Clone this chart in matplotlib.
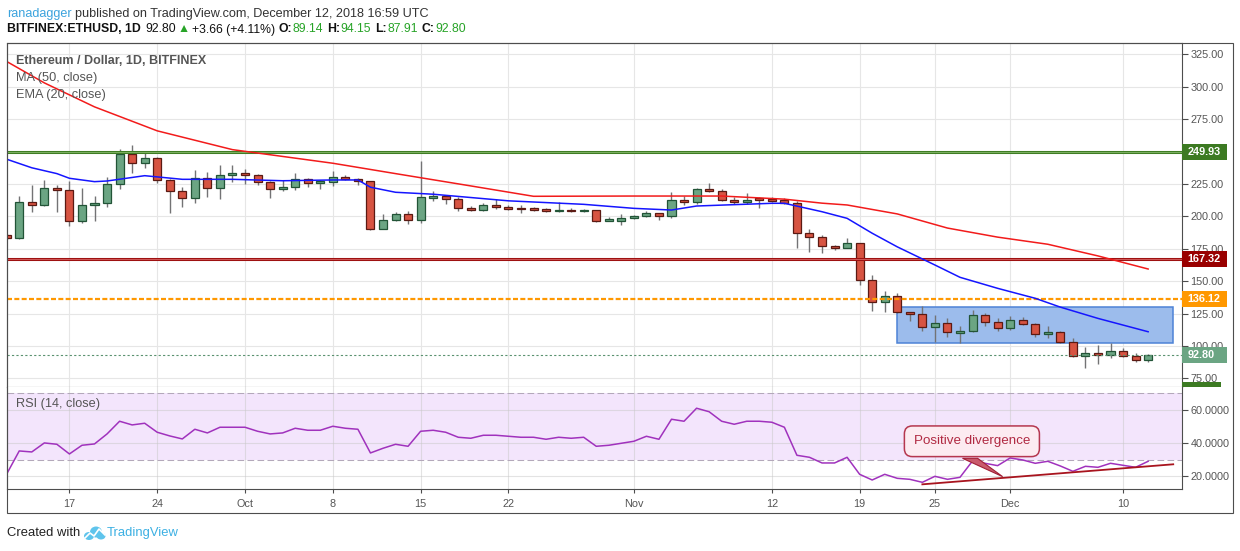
import matplotlib
matplotlib.use("Agg")
import matplotlib.pyplot as plt
import matplotlib.transforms as mtransforms
from matplotlib.patches import Rectangle, Polygon, Ellipse
from matplotlib.lines import Line2D
from matplotlib.ticker import FuncFormatter
import numpy as np

plt.rcParams["font.family"] = ["Liberation Sans", "DejaVu Sans"]

# ---------------------------------------------------------------------------
# Data: BITFINEX ETHUSD daily, 12 Sep - 12 Dec 2018
# ---------------------------------------------------------------------------
OPEN = [185.4, 183.1, 210.9, 208.6, 221.7, 220.1, 196.2, 208.6, 210.1, 224.8,
        247.9, 241.0, 244.8, 227.8, 219.4, 214.0, 229.4, 221.7, 231.7, 233.3,
        231.7, 226.3, 220.9, 222.5, 228.6, 225.5, 226.3, 230.2, 228.6, 227.0,
        190.5, 197.0, 201.6, 197.0, 214.4, 215.7, 213.2, 206.2, 204.7, 208.6,
        207.0, 206.5, 206.2, 205.5, 203.9, 204.9, 203.9, 204.7, 196.7, 196.7,
        198.5, 200.1, 202.4, 200.1, 212.4, 210.9, 220.9, 219.4, 212.4, 210.9,
        213.4, 213.4, 212.4, 210.1, 186.9, 183.9, 176.9, 175.8, 179.2, 150.7,
        133.7, 138.3, 126.0, 124.9, 114.4, 118.0, 110.3, 111.3, 123.7, 118.3,
        113.7, 119.8, 116.7, 109.0, 110.6, 102.9, 92.1, 94.4, 92.8, 95.9,
        92.1, 89.14]
HIGH = [186.5, 215.7, 224.2, 228.1, 224.2, 227.3, 221.7, 215.7, 230.4, 252.0,
        255.1, 250.0, 245.6, 228.5, 222.9, 235.8, 234.0, 239.7, 239.7, 236.3,
        232.5, 227.0, 227.8, 233.7, 229.5, 228.1, 235.0, 232.0, 229.5, 227.5,
        201.9, 203.4, 204.4, 242.7, 219.6, 216.5, 215.2, 207.8, 210.1, 213.2,
        208.6, 208.6, 207.2, 206.2, 210.9, 206.2, 205.7, 205.2, 199.5, 201.9,
        201.1, 204.2, 202.8, 218.8, 215.7, 221.9, 225.8, 220.9, 215.2, 218.0,
        215.2, 215.0, 214.0, 212.1, 190.0, 185.6, 177.7, 183.1, 179.5, 154.5,
        142.4, 140.6, 126.5, 130.9, 123.7, 121.6, 115.4, 127.8, 125.5, 121.6,
        123.4, 122.4, 117.7, 115.4, 111.6, 106.2, 99.2, 100.8, 102.1, 98.2,
        94.4, 94.15]
LOW = [182.8, 182.5, 203.6, 208.0, 203.6, 192.8, 194.7, 196.7, 207.5, 221.0,
       233.7, 237.6, 225.5, 202.9, 207.5, 210.6, 215.2, 213.2, 226.8, 224.8,
       224.0, 214.4, 219.8, 220.1, 222.9, 221.4, 223.8, 227.8, 224.0, 189.3,
       190.0, 196.5, 194.4, 195.1, 212.0, 209.6, 204.4, 204.0, 204.2, 205.5,
       204.9, 202.9, 204.4, 203.4, 203.5, 203.5, 203.5, 195.7, 196.5, 193.6,
       198.0, 199.8, 197.0, 199.0, 208.8, 209.8, 218.6, 212.0, 209.6, 209.9,
       206.7, 211.3, 209.5, 175.9, 172.4, 172.0, 174.3, 175.5, 147.3, 127.2,
       126.5, 125.5, 119.5, 111.6, 103.3, 107.2, 102.5, 111.0, 115.7, 111.8,
       112.1, 116.5, 107.2, 106.4, 102.5, 91.8, 83.3, 86.3, 91.0, 91.6,
       87.9, 87.91]
CLOSE = [183.1, 210.9, 208.6, 221.7, 220.1, 196.2, 208.6, 210.1, 224.8, 247.9,
         241.0, 244.8, 227.8, 219.4, 214.0, 229.4, 221.7, 231.7, 233.3, 231.7,
         226.3, 220.9, 222.5, 228.6, 225.5, 227.0, 230.2, 228.6, 227.0, 190.5,
         197.2, 201.6, 197.0, 214.7, 215.7, 213.2, 206.2, 204.7, 208.6, 207.0,
         205.9, 205.9, 205.2, 203.9, 204.9, 203.9, 204.9, 196.7, 197.2, 198.5,
         200.3, 202.4, 200.1, 212.4, 210.9, 220.9, 219.4, 212.4, 210.9, 212.9,
         212.9, 212.1, 210.1, 186.9, 183.9, 176.9, 175.8, 179.2, 150.7, 133.7,
         138.3, 126.0, 124.9, 114.4, 118.0, 110.6, 111.3, 123.7, 118.3, 113.7,
         119.8, 116.7, 109.0, 110.6, 102.9, 92.1, 94.4, 92.8, 95.9, 92.1,
         89.14, 92.80]

# moving averages as traced (candle index, price)
MA50_X = [0, 3, 7, 12, 18, 26, 31, 37, 42, 50, 57, 62, 65, 67, 71, 75, 79, 83, 87, 91]
MA50_Y = [319.5, 303.0, 284.5, 266.0, 251.5, 241.0, 233.0, 223.5, 215.5, 215.7,
          215.7, 213.3, 210.2, 208.8, 201.9, 191.0, 184.0, 178.5, 169.5, 159.4]
EMA20_X = [0, 2, 4, 5, 7, 8, 11, 14, 18, 22, 26, 28, 29, 31, 34, 40, 46, 50, 53,
           55, 61, 62, 65, 67, 69, 71, 74, 76, 79, 82, 84, 87, 91]
EMA20_Y = [244.1, 237.5, 233.0, 229.4, 226.8, 227.3, 231.4, 228.6, 228.6, 227.5,
           228.1, 228.1, 222.5, 218.6, 217.1, 212.0, 209.3, 206.2, 204.9, 208.0,
           210.1, 210.1, 203.6, 198.5, 187.0, 176.5, 162.5, 153.0, 144.5, 136.8,
           130.0, 121.3, 111.0]

RSI = [21.4, 35.2, 34.6, 40.0, 39.2, 33.4, 38.6, 39.4, 45.4, 53.0,
       50.8, 51.8, 46.4, 44.2, 42.4, 48.2, 46.0, 49.4, 49.4, 49.4,
       47.0, 45.4, 46.0, 48.8, 47.6, 47.6, 50.0, 48.8, 48.2, 34.0,
       36.8, 39.2, 38.0, 47.0, 47.6, 46.4, 43.4, 42.8, 44.6, 44.6,
       44.0, 43.4, 43.4, 42.2, 43.4, 42.8, 43.4, 38.0, 38.6, 39.8,
       41.0, 44.0, 42.2, 54.2, 53.0, 60.8, 58.7, 53.0, 51.2, 53.0,
       53.0, 52.4, 49.4, 32.6, 31.4, 28.0, 28.0, 31.4, 21.2, 17.8,
       21.2, 18.8, 18.2, 16.4, 20.0, 18.2, 19.4, 29.2, 27.8, 26.4,
       31.0, 29.8, 27.8, 29.0, 26.2, 23.0, 26.0, 25.4, 27.8, 26.6,
       25.4, 29.0]

TICK_IDX = [5, 12, 19, 26, 33, 40, 50, 61, 68, 74, 80, 89]
TICK_LBL = ["17", "24", "Oct", "8", "15", "22", "Nov", "12", "19", "25", "Dec", "10"]

LEVELS = [249.93, 167.32, 136.12]           # green, red, orange
BOX_X = [71.0, 93.0]                        # consolidation box
BOX_Y = [102.1, 129.9]
TREND_X = [73.0, 93.0]                      # RSI support line
TREND_Y = [15.2, 27.2]
CALLOUT_XY = (76.95, 41.0)
CALLOUT_TIP = (79.4, 19.8)

# ---------------------------------------------------------------------------
# Layout (pixel geometry of the TradingView snapshot)
# ---------------------------------------------------------------------------
W, H, DPI = 1240, 551, 100
L, R = 6.7, 1182.0
T_MAIN, B_MAIN, B_RSI, B_FRAME, R_FRAME = 42.7, 386.7, 489.0, 513.0, 1233.0

GRAY = "#4d4d4d"
TXT = "#555555"
UP_FILL, UP_EDGE = "#6ba583", "#225437"
DN_FILL, DN_EDGE = "#d75442", "#5b1a13"
WICK = "#737375"
GREEN_TXT = "#27a327"


def fx(x):
    return x / W


def fy(y):
    return 1 - y / H


fig = plt.figure(figsize=(W / DPI, H / DPI), dpi=DPI)
fig.patch.set_facecolor("white")

ax = fig.add_axes([fx(L), fy(B_MAIN), fx(R) - fx(L), (B_MAIN - T_MAIN) / H])
rsi = fig.add_axes([fx(L), fy(B_RSI), fx(R) - fx(L), (B_RSI - B_MAIN) / H], sharex=ax)

# ---------------------------------------------------------------------------
# Price pane
# ---------------------------------------------------------------------------
idx = np.arange(len(CLOSE))
o, h, l, c = (np.array(v) for v in (OPEN, HIGH, LOW, CLOSE))
up = c >= o
body_lo = np.minimum(o, c)
body_h = np.maximum(np.abs(c - o), 0.9)

ax.vlines(idx, l, h, color=WICK, lw=1.0, zorder=3)
ax.bar(idx[up], body_h[up], bottom=body_lo[up], width=0.64,
       color=UP_FILL, edgecolor=UP_EDGE, lw=0.9, zorder=4)
ax.bar(idx[~up], body_h[~up], bottom=body_lo[~up], width=0.64,
       color=DN_FILL, edgecolor=DN_EDGE, lw=0.9, zorder=4)

ax.add_patch(Rectangle((BOX_X[0], BOX_Y[0]), BOX_X[1] - BOX_X[0], BOX_Y[1] - BOX_Y[0],
                       fc="#9cbcec", ec="#4d82d6", lw=1.1, zorder=2))

ax.plot(MA50_X, MA50_Y, color="#f21b1b", lw=1.1, zorder=6)
ax.plot(EMA20_X, EMA20_Y, color="#1515ff", lw=1.1, zorder=6)

# horizontal levels
ax.axhline(LEVELS[0], color="#3f7d24", lw=2.2, zorder=5)
ax.axhline(LEVELS[0], color="#7cb062", lw=0.7, zorder=5)
ax.axhline(LEVELS[1], color="#9e1111", lw=2.2, zorder=5)
ax.axhline(LEVELS[1], color="#cf5a5a", lw=0.7, zorder=5)
ax.axhline(LEVELS[2], color="#ff9800", lw=1.6, ls=(0, (2.25, 1.05)), zorder=5)
ax.axhline(CLOSE[-1], color="#5b9270", lw=0.8, ls=(0, (2, 2)), zorder=5)

ax.set_xlim(0, 93.7)
ax.set_ylim(68.6, 334.0)
ax.set_xticks(TICK_IDX)
ax.tick_params(axis="x", length=0, labelbottom=False)
ax.yaxis.tick_right()
ax.set_yticks(np.arange(75, 326, 25))
# the 250 label sits under the 249.93 tag in the original
ax.yaxis.set_major_formatter(FuncFormatter(lambda v, _: "" if v == 250 else f"{v:.2f}"))
ax.tick_params(axis="y", direction="out", length=4, width=0.8, color=GRAY,
               labelcolor=TXT, labelsize=7.8, pad=2)
ax.grid(True, color="#e6e6e6", lw=0.8)
ax.set_axisbelow(True)
for sp in ax.spines.values():
    sp.set_color(GRAY)
    sp.set_linewidth(0.8)

# price tags on the right scale
axw = R - L
tag_tr = mtransforms.blended_transform_factory(ax.transAxes, ax.transData)
ppu = (B_MAIN - T_MAIN) / (334.0 - 68.6)


def price_tag(value, color):
    hh = 16 / ppu
    ax.add_patch(Rectangle((1.0, value - hh / 2), 44.7 / axw, hh, transform=tag_tr,
                           fc=color, ec="none", clip_on=False, zorder=10))
    ax.text(1.0 + 5.5 / axw, value, f"{value:.2f}", transform=tag_tr, color="white",
            fontsize=7.8, fontweight="bold", va="center", ha="left",
            clip_on=False, zorder=11)


price_tag(LEVELS[0], "#3c7a22")
price_tag(LEVELS[1], "#990000")
price_tag(LEVELS[2], "#ff9800")
price_tag(CLOSE[-1], "#6ba583")
ax.add_patch(Rectangle((1.0, 0.0), 39 / axw, 4.3 / (B_MAIN - T_MAIN),
                       transform=ax.transAxes, fc="#3c7a22", ec="none",
                       clip_on=False, zorder=10))

# ---------------------------------------------------------------------------
# RSI pane
# ---------------------------------------------------------------------------
rsi.axhspan(30, 70, color="#f3e5fc", lw=0, zorder=1)
for lvl in (70, 30):
    rsi.axhline(lvl, color="#b3a8ba", lw=0.75, ls=(0, (6.4, 3.2)), zorder=2)
rsi.plot(idx, RSI, color="#a032bd", lw=1.1, zorder=3)
rsi.plot(TREND_X, TREND_Y, color="#a8141e", lw=1.3, zorder=4)

tail = Polygon([(CALLOUT_XY[0] - 0.75, 30.8), (CALLOUT_XY[0] + 0.45, 30.8), CALLOUT_TIP],
               closed=True, fc="#c95a6c", ec="#a01f35", lw=0.8, zorder=5)
rsi.add_patch(tail)
rsi.text(*CALLOUT_XY, "Positive divergence", ha="center", va="center",
         fontsize=9.6, color="#b02a42", zorder=6,
         bbox=dict(boxstyle="round,pad=0.7,rounding_size=0.6",
                   fc="#fcebf1", ec="#b5374f", lw=1.1))

rsi.set_ylim(12.4, 73.7)
rsi.yaxis.tick_right()
rsi.set_yticks([20, 40, 60])
rsi.yaxis.set_major_formatter(FuncFormatter(lambda v, _: f"{v:.4f}"))
rsi.set_xticks(TICK_IDX)
rsi.set_xticklabels(TICK_LBL)
rsi.tick_params(axis="y", direction="out", length=4, width=0.8, color=GRAY,
                labelcolor=TXT, labelsize=7.8, pad=2)
rsi.tick_params(axis="x", direction="out", length=3, width=0.8, color=GRAY,
                labelcolor=TXT, labelsize=7.8, pad=4)
rsi.grid(True, color="#c8c8c8", alpha=0.5, lw=0.8)
rsi.set_axisbelow("line")
for name, sp in rsi.spines.items():
    sp.set_color(GRAY)
    sp.set_linewidth(0.8)
rsi.spines["top"].set_visible(False)

# ---------------------------------------------------------------------------
# Frame and texts
# ---------------------------------------------------------------------------
fig.add_artist(Rectangle((fx(L), fy(B_FRAME)), fx(R_FRAME) - fx(L), (B_FRAME - T_MAIN) / H,
                         transform=fig.transFigure, fill=False, ec=GRAY, lw=0.8))

renderer = fig.canvas.get_renderer()


def text_run(x, y, runs, size):
    for s, color, weight, gap in runs:
        t = fig.text(fx(x), fy(y), s, color=color, fontweight=weight,
                     fontsize=size, va="center", ha="left")
        x = t.get_window_extent(renderer=renderer).x1 + gap


chg = CLOSE[-1] - CLOSE[-2]
pct = chg / CLOSE[-2] * 100
text_run(7, 13.5, [("ranadagger", "#3ba3dd", "normal", 3.5),
                   ("published on TradingView.com, December 12, 2018 16:59 UTC",
                    "#333333", "normal", 0)], 9.1)
text_run(7, 29.5, [("BITFINEX:ETHUSD, 1D", "#111111", "bold", 5),
                   (f"{CLOSE[-1]:.2f}", "#111111", "normal", 1.5),
                   ("\u25b2", GREEN_TXT, "normal", 2),
                   (f"+{chg:.2f} (+{pct:.2f}%)", "#111111", "normal", 3),
                   ("O:", "#111111", "bold", 0.5), (f"{OPEN[-1]:.2f}", GREEN_TXT, "normal", 4),
                   ("H:", "#111111", "bold", 0.5), (f"{HIGH[-1]:.2f}", GREEN_TXT, "normal", 4),
                   ("L:", "#111111", "bold", 0.5), (f"{LOW[-1]:.2f}", GREEN_TXT, "normal", 4),
                   ("C:", "#111111", "bold", 0.5), (f"{CLOSE[-1]:.2f}", GREEN_TXT, "normal", 0)],
         8.8)

fig.text(fx(15.7), fy(61), "Ethereum / Dollar, 1D, BITFINEX", color=TXT,
         fontweight="bold", fontsize=9.0, va="center")
fig.text(fx(15.7), fy(78), "MA (50, close)", color=TXT, fontsize=9.2, va="center")
fig.text(fx(15.7), fy(95), "EMA (20, close)", color=TXT, fontsize=9.2, va="center")
fig.text(fx(15.7), fy(404), "RSI (14, close)", color=TXT, fontsize=9.2, va="center")

# footer
fig.text(fx(7), fy(533), "Created with", color="#222222", fontsize=9.4, va="center")
for cx, cy, ew, eh in [(89, 536, 10, 8), (96, 532, 12, 11), (101, 536, 9, 7)]:
    fig.add_artist(Ellipse((fx(cx), fy(cy)), ew / W, eh / H, transform=fig.transFigure,
                           fc="#5fc4ec", ec="none"))
fig.add_artist(Line2D([fx(85), fx(90), fx(94), fx(99), fx(105)],
                      [fy(538), fy(533), fy(536), fy(529), fy(535)],
                      transform=fig.transFigure, color="white", lw=1.2))
fig.text(fx(107), fy(533), "TradingView", color="#3cb0e3", fontsize=9.4, va="center")

fig.savefig("out.png", dpi=DPI)
